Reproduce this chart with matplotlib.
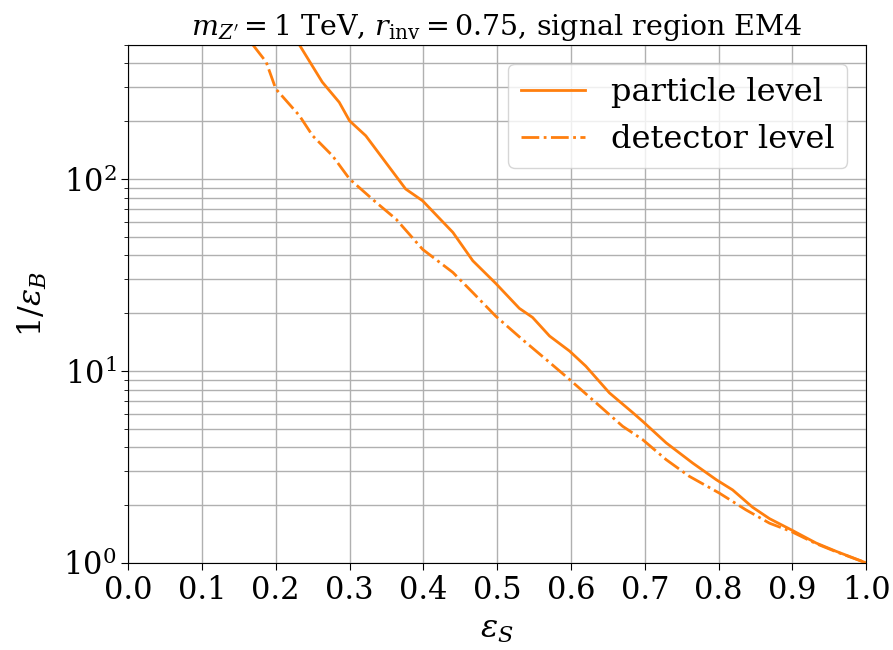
import matplotlib
matplotlib.use("Agg")
import matplotlib.pyplot as plt
from matplotlib.ticker import MultipleLocator, LogLocator, NullFormatter

# particle level ROC (signal efficiency vs 1/background efficiency)
eps_s_particle = [0.232, 0.263, 0.286, 0.300, 0.322, 0.349, 0.376, 0.399, 0.440, 0.467,
                  0.498, 0.530, 0.548, 0.571, 0.598, 0.620, 0.652, 0.684, 0.697, 0.729,
                  0.765, 0.797, 0.819, 0.846, 0.869, 0.898, 0.932, 0.959, 1.0]
inv_eps_b_particle = [500, 320, 251, 201, 168, 122, 88.7, 77, 52.7, 37.5,
                      28.6, 21.2, 19, 15.2, 12.7, 10.6, 7.69, 6.05, 5.47, 4.22,
                      3.31, 2.71, 2.40, 1.95, 1.70, 1.49, 1.27, 1.15, 1.0]

# detector level ROC
eps_s_detector = [0.169, 0.187, 0.200, 0.232, 0.250, 0.277, 0.300, 0.336, 0.363, 0.399,
                  0.440, 0.467, 0.498, 0.534, 0.566, 0.598, 0.634, 0.670, 0.697, 0.729,
                  0.760, 0.801, 0.837, 0.869, 0.898, 0.932, 0.960, 1.0]
inv_eps_b_detector = [500, 407, 295, 214, 168, 132, 100, 75.5, 61.8, 43,
                      32.6, 25.6, 19.3, 14.6, 11.5, 9.03, 6.82, 5.15, 4.39, 3.45,
                      2.83, 2.31, 1.89, 1.61, 1.46, 1.26, 1.14, 1.0]

plt.rcParams['font.family'] = ['DejaVu Serif']
plt.rcParams['mathtext.fontset'] = 'dejavuserif'

fig = plt.figure(figsize=(8.93, 6.5), dpi=100)
ax = fig.add_axes([0.1435, 0.134, 0.8265, 0.797])

color = '#ff7f0e'
ax.plot(eps_s_particle, inv_eps_b_particle, color=color, lw=2, ls='-', label='particle level')
ax.plot(eps_s_detector, inv_eps_b_detector, color=color, lw=2, ls='-.', label='detector level')

ax.set_yscale('log')
ax.set_xlim(0, 1)
ax.set_ylim(1, 500)
ax.xaxis.set_major_locator(MultipleLocator(0.1))
ax.yaxis.set_major_locator(LogLocator(base=10))
ax.yaxis.set_minor_locator(LogLocator(base=10, subs=range(2, 10)))
ax.yaxis.set_minor_formatter(NullFormatter())
ax.grid(True, which='major', color='#b0b0b0', lw=1)
ax.grid(True, which='minor', axis='y', color='#b0b0b0', lw=1)
ax.tick_params(axis='both', which='major', labelsize=22, length=5)
ax.tick_params(axis='y', which='minor', length=3)

ax.set_xlabel(r'$\varepsilon_S$', fontsize=23, labelpad=6)
ax.set_ylabel(r'$1/\varepsilon_B$', fontsize=23, labelpad=10)
ax.set_title(r"$m_{Z'} = 1$ TeV, $r_{\rm inv} = 0.75$, signal region EM4",
             fontsize=20.5, pad=7)

leg = ax.legend(loc='upper right', fontsize=23, handlelength=2.0, framealpha=0.8,
                borderaxespad=0.6)

fig.savefig('out.png', dpi=100)
